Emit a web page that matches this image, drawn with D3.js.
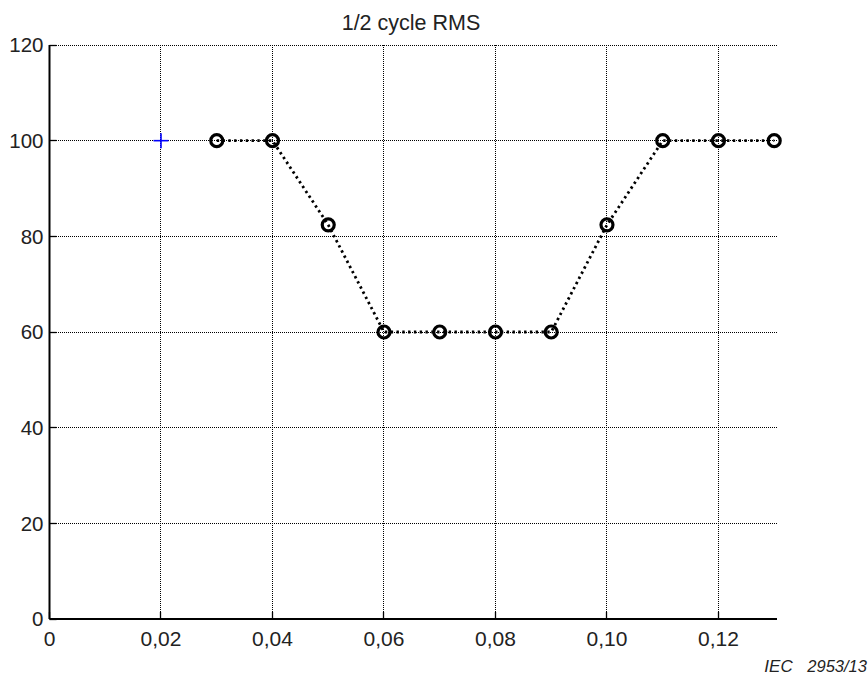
<!DOCTYPE html>
<html><head><meta charset="utf-8">
<script src="https://cdn.jsdelivr.net/npm/d3@7/dist/d3.min.js"></script>
<style>body{margin:0;background:#fff}svg{display:block}text{font-family:"Liberation Sans",Arial,sans-serif;fill:#222}</style>
</head><body><svg id="c" width="868" height="684"></svg>
<script>
const xValues = [0.03,0.04,0.05,0.06,0.07,0.08,0.09,0.10,0.11,0.12,0.13];
const rmsValues = [100,100,82.4,60,60,60,60,82.4,100,100,100];
const markerPoint = [{x:0.02, y:100}];
const xTicks = [0,0.02,0.04,0.06,0.08,0.10,0.12];
const xTickLabels = ["0","0,02","0,04","0,06","0,08","0,10","0,12"];
const yTicks = [0,20,40,60,80,100,120];
const title = "1/2 cycle RMS";

const svg = d3.select("#c");
const L=49.5, R=777, T=45, B=619;
const x = d3.scaleLinear().domain([0,0.1305]).range([L,R]);
const y = d3.scaleLinear().domain([0,120]).range([B,T]);
const px = v => Math.round(v-0.5)+0.5;

// grid
svg.append("g").attr("shape-rendering","crispEdges").selectAll("line").data(yTicks.filter(d=>d>0)).join("line")
  .attr("x1",L).attr("x2",R).attr("y1",d=>px(y(d))).attr("y2",d=>px(y(d)))
  .attr("stroke","#000").attr("stroke-width",1).attr("stroke-dasharray","1,1");
svg.append("g").attr("shape-rendering","crispEdges").selectAll("line").data(xTicks.filter(d=>d>0)).join("line")
  .attr("x1",d=>px(x(d))).attr("x2",d=>px(x(d))).attr("y1",T).attr("y2",B)
  .attr("stroke","#000").attr("stroke-width",1).attr("stroke-dasharray","1,1");

// ticks inward
svg.append("g").selectAll("line").data(xTicks).join("line")
  .attr("x1",d=>px(x(d))).attr("x2",d=>px(x(d))).attr("y1",B).attr("y2",B-7)
  .attr("stroke","#000").attr("stroke-width",1.3);
svg.append("g").selectAll("line").data(yTicks).join("line")
  .attr("x1",L).attr("x2",L+7).attr("y1",d=>px(y(d))).attr("y2",d=>px(y(d)))
  .attr("stroke","#000").attr("stroke-width",1.3);

// axes lines
svg.append("line").attr("x1",L).attr("x2",R).attr("y1",B).attr("y2",B).attr("stroke","#000").attr("stroke-width",2);
svg.append("line").attr("x1",L).attr("x2",L).attr("y1",T).attr("y2",B).attr("stroke","#000").attr("stroke-width",2);

// tick labels
svg.append("g").selectAll("text").data(xTicks).join("text")
  .attr("x",d=>x(d)).attr("y",645.5).attr("text-anchor","middle")
  .attr("font-size",21).text((d,i)=>xTickLabels[i]);
svg.append("g").selectAll("text").data(yTicks).join("text")
  .attr("x",43.5).attr("y",d=>y(d)+7.3).attr("text-anchor","end")
  .attr("font-size",20.5).text(d=>d);

// title
svg.append("text").attr("x",411).attr("y",29.5).attr("text-anchor","middle").attr("font-size",21.5).text(title);

// data line
const pts = xValues.map((v,i)=>({x:v,y:rmsValues[i]}));
svg.append("path").datum(pts)
  .attr("d",d3.line().x(d=>x(d.x)).y(d=>y(d.y)))
  .attr("fill","none").attr("stroke","#000").attr("stroke-width",2.8).attr("stroke-dasharray","2.4,3.4");
svg.append("g").selectAll("circle").data(pts).join("circle")
  .attr("cx",d=>x(d.x)).attr("cy",d=>y(d.y)).attr("r",6)
  .attr("fill","none").attr("stroke","#000").attr("stroke-width",3.2);

// blue plus marker
const mk = svg.append("g").selectAll("g").data(markerPoint).join("g");
mk.append("line").attr("x1",d=>x(d.x)-7.5).attr("x2",d=>x(d.x)+7.5).attr("y1",d=>y(d.y)).attr("y2",d=>y(d.y)).attr("stroke","#00f").attr("stroke-width",1.6);
mk.append("line").attr("x1",d=>x(d.x)).attr("x2",d=>x(d.x)).attr("y1",d=>y(d.y)-7.5).attr("y2",d=>y(d.y)+7.5).attr("stroke","#00f").attr("stroke-width",1.6);

// IEC label
svg.append("text").attr("x",792.7).attr("y",671.5).attr("text-anchor","end").attr("font-size",17).attr("font-style","italic").text("IEC");
svg.append("text").attr("x",807.3).attr("y",671.5).attr("font-size",16.5).attr("font-style","italic").text("2953/13");
</script></body></html>
